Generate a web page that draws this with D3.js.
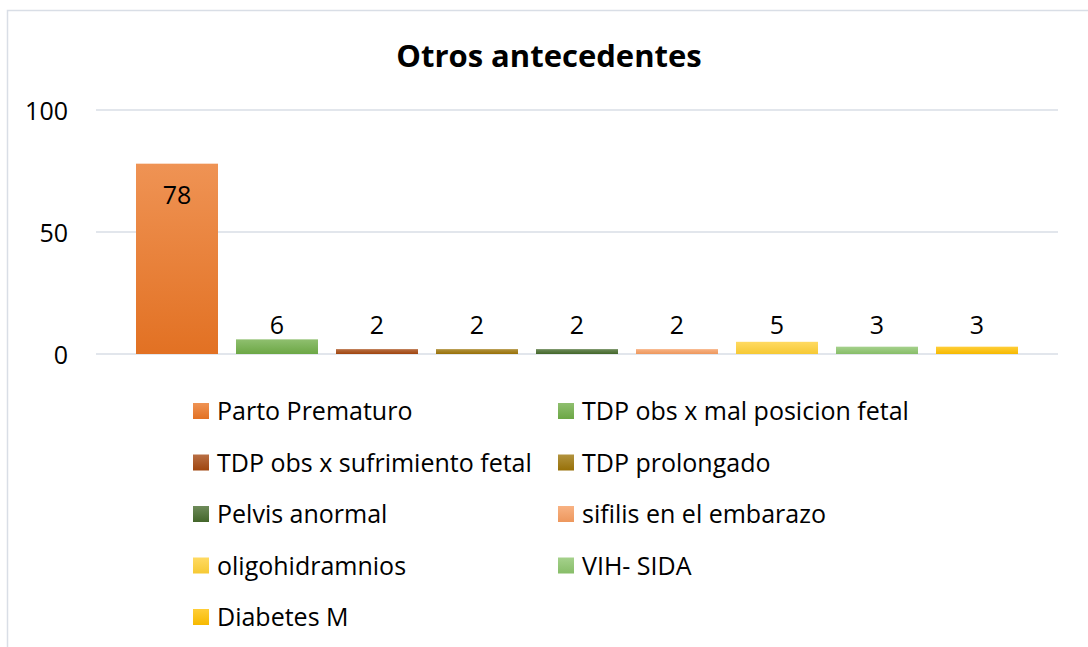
<!DOCTYPE html>
<html>
<head>
<meta charset="utf-8">
<script src="https://cdn.jsdelivr.net/npm/d3@7"></script>
<style>
  body { margin: 0; background: #fff; }
  text { font-family: "Open Sans", Lato, sans-serif; fill: #000; }
</style>
</head>
<body>
<div id="chart"></div>
<script>
// datos del grafico
const categorias = ["Parto Prematuro", "TDP obs x mal posicion fetal", "TDP obs x sufrimiento fetal",
  "TDP prolongado", "Pelvis anormal", "sifilis en el embarazo", "oligohidramnios", "VIH- SIDA", "Diabetes M"];
const valores = [78, 6, 2, 2, 2, 2, 5, 3, 3];
const colores = ["#EA7524", "#70AD47", "#A5470F", "#9C7408", "#456A2C", "#F69C60", "#FFD036", "#8CC46C", "#FFC000"];
const ticksY = [0, 50, 100];

const width = 1088, height = 647;
const fontSize = "25px";

const data = categorias.map((c, i) => ({ name: c, value: valores[i], color: colores[i] }));

let svg = d3.select("#chart").append("svg")
  .attr("width", width)
  .attr("height", height);

// borde del area del grafico
svg.append("rect")
  .attr("x", 7.5).attr("y", 10.5)
  .attr("width", 1200).attr("height", 800)
  .attr("fill", "#fff")
  .attr("stroke", "#D9DEE6")
  .attr("stroke-width", 1.5);

// gradientes para las barras (mas claro arriba)
let defs = svg.append("defs");
data.forEach((d, i) => {
  let g = defs.append("linearGradient")
    .attr("id", "grad" + i)
    .attr("x1", 0).attr("y1", 0).attr("x2", 0).attr("y2", 1);
  g.append("stop").attr("offset", "0%").attr("stop-color", d3.interpolateRgb(d.color, "#fff")(0.22));
  g.append("stop").attr("offset", "100%").attr("stop-color", d3.color(d.color).darker(0.1));
});

let x = d3.scaleBand()
  .domain(categorias)
  .range([96, 1058])
  .paddingInner(0.18)
  .paddingOuter(0.4);

let y = d3.scaleLinear()
  .domain([0, 100])
  .range([354, 110]);

// lineas de la grilla
svg.append("g")
  .selectAll("line")
  .data(ticksY)
  .enter()
  .append("line")
  .attr("x1", 96).attr("x2", 1058)
  .attr("y1", d => y(d)).attr("y2", d => y(d))
  .attr("stroke", "#D9DEE6")
  .attr("stroke-width", 1.5);

// eje y
let yAxis = d3.axisLeft(y).tickValues(ticksY).tickSize(0).tickPadding(0);
svg.append("g")
  .attr("transform", "translate(68,0)")
  .call(yAxis)
  .call(g => g.select(".domain").remove())
  .selectAll("text")
  .attr("dy", "0.36em")
  .style("font-family", "'Open Sans', sans-serif")
  .style("font-size", fontSize)
  .attr("fill", "#000");

// barras
svg.selectAll("rect.bar")
  .data(data)
  .enter()
  .append("rect")
  .attr("class", "bar")
  .attr("x", d => x(d.name))
  .attr("width", x.bandwidth())
  .attr("y", d => y(d.value))
  .attr("height", d => y(0) - y(d.value))
  .attr("fill", (d, i) => `url(#grad${i})`);

// etiquetas de valor
svg.selectAll("text.valueLabel")
  .data(data)
  .enter()
  .append("text")
  .attr("class", "valueLabel")
  .attr("x", d => x(d.name) + x.bandwidth() / 2)
  .attr("y", d => d.value > 50 ? y(d.value) + 40 : Math.min(y(d.value), y(6)) - 5)
  .attr("text-anchor", "middle")
  .style("font-size", fontSize)
  .text(d => d.value);

// titulo
svg.append("text")
  .attr("x", 549)
  .attr("y", 67)
  .attr("text-anchor", "middle")
  .style("font-size", "31px")
  .style("font-weight", "bold")
  .text("Otros antecedentes");

// leyenda
let legend = svg.append("g").attr("class", "legend");
let items = legend.selectAll("g")
  .data(data)
  .enter()
  .append("g")
  .attr("transform", (d, i) => `translate(${i % 2 === 0 ? 193 : 558}, ${411 + Math.floor(i / 2) * 51.5})`);

items.append("rect")
  .attr("x", 0).attr("y", -8)
  .attr("width", 16).attr("height", 16)
  .attr("fill", (d, i) => `url(#grad${i})`);

items.append("text")
  .attr("x", 24)
  .attr("y", 0)
  .attr("dy", "0.36em")
  .style("font-size", fontSize)
  .text(d => d.name);
</script>
</body>
</html>
